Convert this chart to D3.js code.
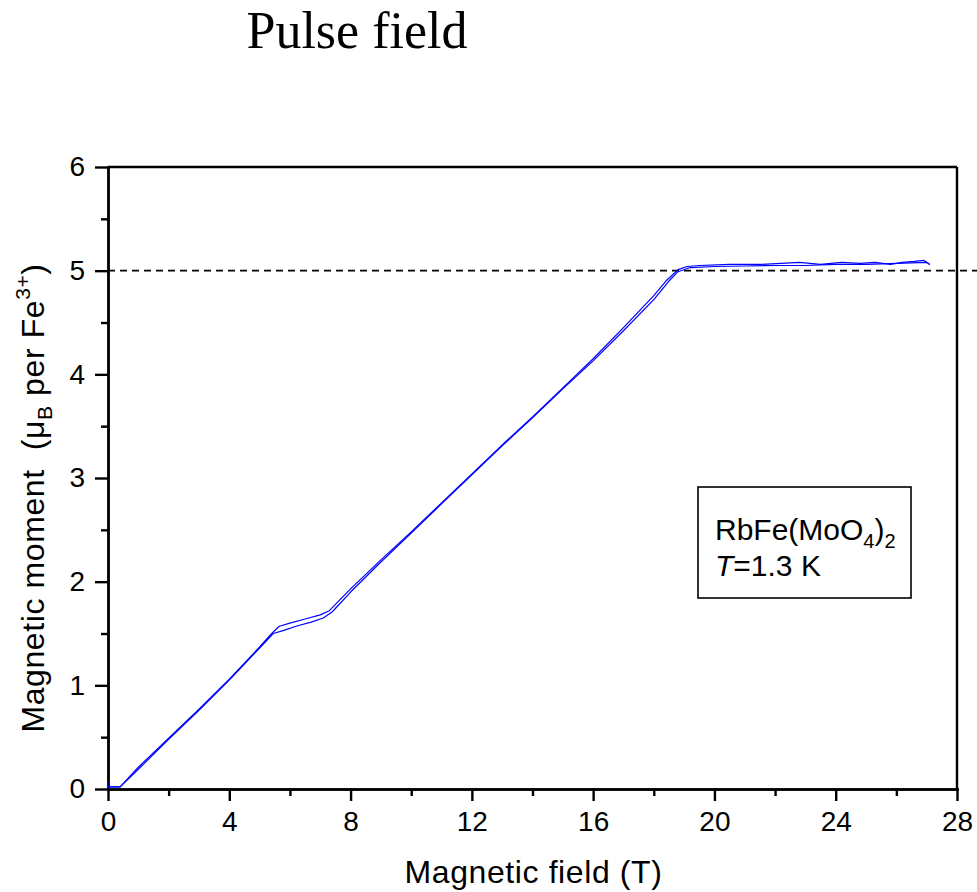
<!DOCTYPE html>
<html lang="en">
<head>
  <meta charset="UTF-8">
  <title>Pulse field</title>
  <script src="https://cdn.jsdelivr.net/npm/d3@7"></script>
  <style>
    body { margin: 0; background: #fff; }
    svg { display: block; }
    .axis path, .axis line { stroke: #000; stroke-width: 2.4px; fill: none; }
    .axis text { font: 28px "Liberation Sans", Arial, sans-serif; fill: #000; }
    .label { font: 32px "Liberation Sans", Arial, sans-serif; fill: #000; letter-spacing: 0.6px; }
    .legend { font: 30px "Liberation Sans", Arial, sans-serif; fill: #000; }
    .sweep { fill: none; stroke: #0000ff; stroke-width: 1.2px; stroke-linejoin: round; }
  </style>
</head>
<body>
  <svg width="977" height="892"></svg>
  <script>
    // up sweep (field in T, moment in muB per Fe3+)
    var upField  = [0, 0.4, 1, 2, 3, 4, 5, 5.45, 5.8, 6.2, 6.7, 7.1, 7.4, 8, 9, 10, 11, 12, 13, 14, 15, 16, 17, 18, 18.5, 18.8, 19.2, 20, 21, 22, 23, 24, 25, 26, 27, 27.1];
    var upMoment = [0.02, 0.02, 0.19, 0.48, 0.76, 1.05, 1.36, 1.50, 1.53, 1.57, 1.61, 1.65, 1.71, 1.90, 2.19, 2.47, 2.75, 3.03, 3.31, 3.58, 3.86, 4.13, 4.42, 4.72, 4.90, 4.99, 5.03, 5.04, 5.045, 5.05, 5.05, 5.06, 5.06, 5.07, 5.08, 5.06];

    // down sweep
    var downField  = [27.1, 26.9, 26.6, 26.2, 25.8, 25.3, 24.8, 24.2, 23.5, 22.8, 22.2, 21.5, 20.5, 19.5, 19.1, 18.8, 18.4, 18, 17, 16, 15, 14, 13, 12, 11, 10, 9, 8, 7.3, 7.0, 6.5, 6.0, 5.65, 5.4, 5, 4, 3, 2, 1, 0.4, 0, 0];
    var downMoment = [5.06, 5.10, 5.09, 5.08, 5.06, 5.08, 5.07, 5.08, 5.06, 5.08, 5.07, 5.06, 5.06, 5.05, 5.04, 5.01, 4.90, 4.76, 4.45, 4.15, 3.87, 3.59, 3.32, 3.04, 2.76, 2.48, 2.21, 1.93, 1.72, 1.68, 1.64, 1.60, 1.57, 1.50, 1.37, 1.06, 0.77, 0.49, 0.21, 0.02, 0.02, 0.07];

    var saturation = 5.0;

    var xMajor = [0, 4, 8, 12, 16, 20, 24, 28];
    var xMinor = [2, 6, 10, 14, 18, 22, 26];
    var yMajor = [0, 1, 2, 3, 4, 5, 6];
    var yMinor = [0.5, 1.5, 2.5, 3.5, 4.5, 5.5];

    var svg = d3.select("svg"),
        margin = {top: 167, right: 20, bottom: 103, left: 108},
        width = +svg.attr("width") - margin.left - margin.right,
        height = +svg.attr("height") - margin.top - margin.bottom;

    var g = svg.append("g")
        .attr("transform", "translate(" + margin.left + "," + margin.top + ")");

    var x = d3.scaleLinear().domain([0, 28]).range([0, width]);
    var y = d3.scaleLinear().domain([0, 6]).range([height, 0]);

    // title
    svg.append("text")
        .attr("x", 357)
        .attr("y", 48)
        .attr("text-anchor", "middle")
        .style("font", "52px 'Liberation Serif', 'Times New Roman', serif")
        .text("Pulse field");

    // frame top and right
    g.append("line")
        .attr("x1", 0).attr("x2", x(28)).attr("y1", 0).attr("y2", 0)
        .attr("stroke", "#000").attr("stroke-width", 2.4);
    g.append("line")
        .attr("x1", x(28)).attr("x2", x(28)).attr("y1", 0).attr("y2", height)
        .attr("stroke", "#000").attr("stroke-width", 2.4);

    // x axis: minor then major
    g.append("g")
        .attr("class", "axis")
        .attr("transform", "translate(0," + height + ")")
        .call(d3.axisBottom(x).tickValues(xMinor).tickSize(7).tickSizeOuter(0).tickFormat(""));
    g.append("g")
        .attr("class", "axis")
        .attr("transform", "translate(0," + height + ")")
        .call(d3.axisBottom(x).tickValues(xMajor).tickSize(12).tickSizeOuter(0).tickPadding(10).tickFormat(d3.format("d")));

    // y axis
    g.append("g")
        .attr("class", "axis")
        .call(d3.axisLeft(y).tickValues(yMinor).tickSize(7).tickSizeOuter(0).tickFormat(""));
    g.append("g")
        .attr("class", "axis")
        .call(d3.axisLeft(y).tickValues(yMajor).tickSize(13).tickSizeOuter(0).tickPadding(10).tickFormat(d3.format("d")));

    g.selectAll(".axis .domain").attr("stroke-linecap", "square");

    // saturation line
    g.append("line")
        .attr("x1", x(0)).attr("x2", x(28) + 20)
        .attr("y1", y(saturation)).attr("y2", y(saturation))
        .attr("stroke", "#000")
        .attr("stroke-width", 1.6)
        .attr("stroke-dasharray", "7,5");

    var line = d3.line()
        .curve(d3.curveMonotoneX)
        .x(function(d) { return x(d[0]); })
        .y(function(d) { return y(d[1]); });

    var lineRaw = d3.line()
        .x(function(d) { return x(d[0]); })
        .y(function(d) { return y(d[1]); });

    var up = d3.zip(upField, upMoment);
    var down = d3.zip(downField, downMoment);

    g.append("path").datum(up).attr("class", "sweep").attr("d", lineRaw);
    g.append("path").datum(down).attr("class", "sweep").attr("d", lineRaw);

    // x label
    svg.append("text")
        .attr("class", "label")
        .attr("x", margin.left + width / 2 + 1)
        .attr("y", 883)
        .attr("text-anchor", "middle")
        .text("Magnetic field (T)");

    // y label
    var yl = svg.append("text")
        .attr("class", "label")
        .attr("transform", "translate(44," + 498 + ") rotate(-90)")
        .attr("text-anchor", "middle");
    yl.append("tspan").text("Magnetic moment\u00a0\u00a0(\u03bc");
    yl.append("tspan").attr("dy", 8).style("font-size", "21px").text("B");
    yl.append("tspan").attr("dy", -8).text(" per Fe");
    yl.append("tspan").attr("dy", -14).style("font-size", "21px").text("3+");
    yl.append("tspan").attr("dy", 14).text(")");

    // legend box
    var lg = svg.append("g").attr("transform", "translate(698,487)");
    lg.append("rect")
        .attr("width", 213).attr("height", 111)
        .attr("fill", "none").attr("stroke", "#000").attr("stroke-width", 1.6);
    var t1 = lg.append("text").attr("class", "legend").attr("x", 17).attr("y", 53);
    t1.append("tspan").text("RbFe(MoO");
    t1.append("tspan").attr("dy", 8).style("font-size", "20px").text("4");
    t1.append("tspan").attr("dy", -8).text(")");
    t1.append("tspan").attr("dy", 8).style("font-size", "20px").text("2");
    var t2 = lg.append("text").attr("class", "legend").attr("x", 17).attr("y", 89);
    t2.append("tspan").style("font-style", "italic").text("T");
    t2.append("tspan").text("=1.3 K");
  </script>
</body>
</html>
